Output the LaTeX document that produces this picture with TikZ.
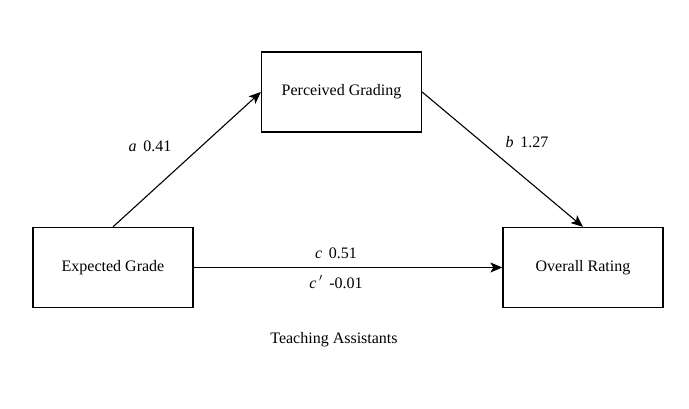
\documentclass[tikz,border=0pt]{standalone}
\usepackage{fontspec}
\setmainfont{Liberation Serif}
\usetikzlibrary{arrows.meta}
\begin{document}
\begin{tikzpicture}[x=1pt,y=-1pt,
  box/.style={draw,line width=1.3pt,minimum width=160pt,minimum height=80pt,inner sep=0pt,font=\fontsize{16}{19}\selectfont},
  lbl/.style={font=\fontsize{16}{19}\selectfont,inner sep=0pt},
  conn/.style={line width=1.1pt,-{Stealth[length=12pt,width=10pt,inset=3pt]}}]
\useasboundingbox (0,0) rectangle (689,408);
\node[box] (pg) at (341.5,92) {Perceived Grading};
\node[box] (eg) at (113,267.5) {Expected Grade};
\node[box] (or) at (583,267.5) {Overall Rating};
\draw[conn] (eg.north) -- (pg.west);
\draw[conn] (pg.east) -- (or.north);
\draw[conn] (eg.east) -- (or.west);
\node[lbl] (la) at (150,146) {\textit{a}\, 0.41};
\node[lbl] (lb) at (527,142) {\textit{b}\, 1.27};
\node[lbl] (lc) at (336,253) {\textit{c}\, 0.51};
\node[lbl] (lcp) at (336,282) {\textit{c\,$'$}\, -0.01};
\node[lbl] (ta) at (334,340) {Teaching Assistants};
\end{tikzpicture}
\end{document}
